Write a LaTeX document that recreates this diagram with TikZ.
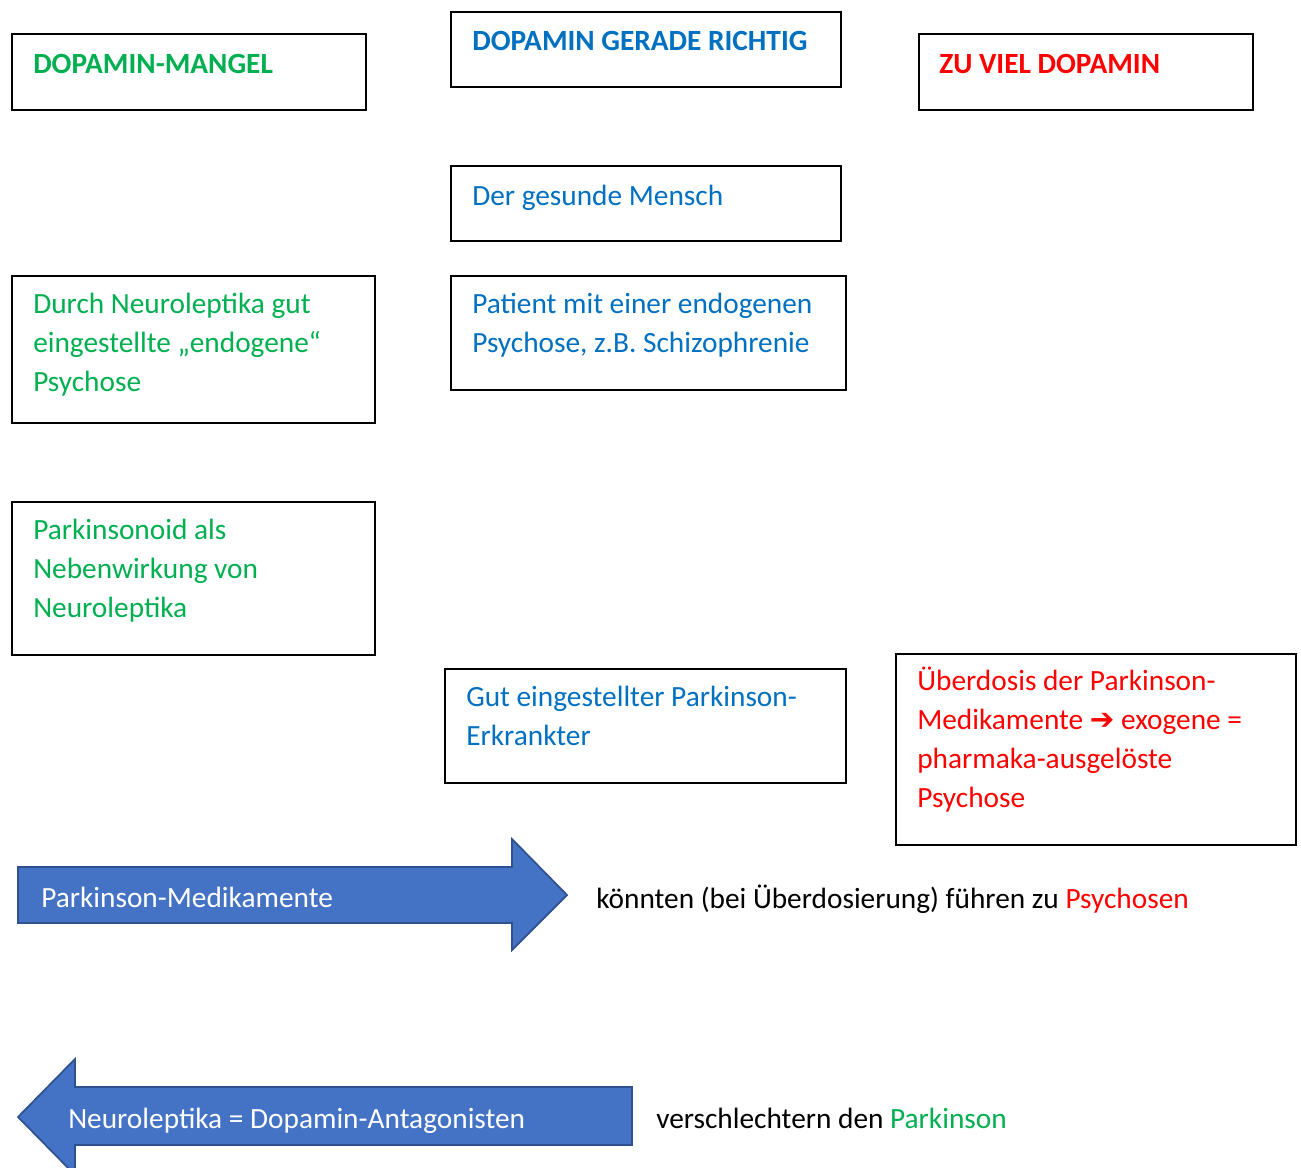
\documentclass[tikz,border=0pt]{standalone}
\usepackage{fontspec}
\setmainfont{Carlito}
\newfontfamily\symfont{DejaVu Sans}
\usetikzlibrary{fit}
\definecolor{dgreen}{HTML}{00B050}
\definecolor{dblue}{HTML}{0070C0}
\definecolor{dred}{HTML}{FF0000}
\definecolor{afill}{HTML}{4472C4}
\definecolor{aline}{HTML}{2F528F}
\tikzset{
  box/.style={draw=black, line width=1.2pt, inner sep=0pt, fill=white},
  txt/.style={anchor=base west, inner sep=0pt, align=left, font=\fontsize{22}{29.25}\selectfont},
  head/.style={txt, font=\fontsize{22}{29.25}\selectfont\bfseries},
  bigarrow/.style={fill=afill, draw=aline, line width=1.3pt, line join=miter},
}
\begin{document}
\begin{tikzpicture}[x=0.75pt,y=-0.75pt]
\useasboundingbox (0,0) rectangle (1301,1167);
% header boxes
\node[box, fit={(12,34) (366,110)}] (b1) {};
\node[head, text=dgreen] (t1) at (33,73) {DOPAMIN-MANGEL};
\node[box, fit={(451,12) (841,87)}] (b2) {};
\node[head, text=dblue] (t2) at (472,50) {DOPAMIN GERADE RICHTIG};
\node[box, fit={(919,34) (1253,110)}] (b3) {};
\node[head, text=dred] (t3) at (939,73) {ZU VIEL DOPAMIN};
% content boxes (anchor = baseline of last line)
\node[box, fit={(451,166) (841,241)}] (b4) {};
\node[txt, text=dblue] (t4) at (472,205) {Der gesunde Mensch};
\node[box, fit={(12,276) (375,423)}] (b5) {};
\node[txt, text=dgreen] (t5) at (33,391) {Durch Neuroleptika gut\\eingestellte „endogene“\\Psychose};
\node[box, fit={(451,276) (846,390)}] (b6) {};
\node[txt, text=dblue] (t6) at (472,352) {Patient mit einer endogenen\\Psychose, z.B. Schizophrenie};
\node[box, fit={(12,502) (375,655)}] (b7) {};
\node[txt, text=dgreen] (t7) at (33,617) {Parkinsonoid als\\Nebenwirkung von\\Neuroleptika};
\node[box, fit={(445,669) (846,783)}] (b8) {};
\node[txt, text=dblue] (t8) at (466,745) {Gut eingestellter Parkinson-\\Erkrankter};
\node[box, fit={(896,654) (1296,845)}] (b9) {};
\node[txt, text=dred] (t9) at (917,807) {Überdosis der Parkinson-\\Medikamente {\symfont\bfseries ➔} exogene =\\pharmaka-ausgelöste\\Psychose};
% arrows
\draw[bigarrow] (18,867) -- (512,867) -- (512,839) -- (567,895) -- (512,950) -- (512,923) -- (18,923) -- cycle;
\node[txt, text=white] (a1) at (41,907) {Parkinson-Medikamente};
\node[txt] (l1) at (596,908) {könnten (bei Überdosierung) führen zu \textcolor{dred}{Psychosen}};
\draw[bigarrow] (632,1087) -- (75,1087) -- (75,1059) -- (18,1117) -- (75,1175) -- (75,1145) -- (632,1145) -- cycle;
\node[txt, text=white] (a2) at (68,1128) {Neuroleptika = Dopamin-Antagonisten};
\node[txt] (l2) at (656,1128) {verschlechtern den \textcolor{dgreen}{Parkinson}};
\end{tikzpicture}
\end{document}
